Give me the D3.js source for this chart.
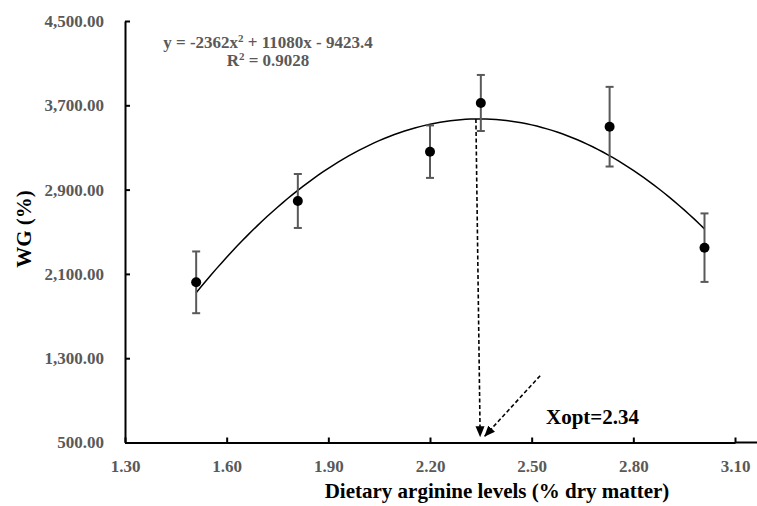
<!DOCTYPE html>
<html>
<head>
<meta charset="utf-8">
<style>
    body { margin: 0; background: #fff; }
    svg { font-family: 'Liberation Serif', 'Times New Roman', serif; font-weight: bold; }
    .axis .tick text { fill: #595959; font-size: 17px; font-family: 'Liberation Serif', 'Times New Roman', serif; font-weight: bold; }
    .axis .tick line { stroke: #000; stroke-width: 2; }
    .axis .domain { stroke: #000; stroke-width: 2; }
</style>
</head>
<body>
<svg width="757" height="506"></svg>
<script src="https://d3js.org/d3.v7.min.js"></script>
<script>
    // dietary arginine levels and weight gain (mean +/- error)
    let levels = [1.51, 1.81, 2.20, 2.35, 2.73, 3.01];
    let wg = [2020, 2792, 3260, 3722, 3497, 2349];
    let wgErr = [293, 256, 249, 266, 378, 325];

    let xTicks = [1.30, 1.60, 1.90, 2.20, 2.50, 2.80, 3.10];
    let yTicks = [500, 1300, 2100, 2900, 3700, 4500];

    // fitted curve y = a x^2 + b x + c
    let coef = [-2362, 11080, -9423.4];
    let xopt = 2.34;

    let width = 757, height = 506;
    let svg = d3.select("svg");

    let x = d3.scaleLinear().domain([1.3, 3.1]).range([125, 735]);
    let y = d3.scaleLinear().domain([500, 4500]).range([442.5, 21]);

    svg.append("defs").append("marker")
        .attr("id", "arrow")
        .attr("markerUnits", "userSpaceOnUse")
        .attr("viewBox", "0 -5 12 10")
        .attr("refX", 11).attr("refY", 0)
        .attr("markerWidth", 12).attr("markerHeight", 10)
        .attr("orient", "auto")
        .append("path")
        .attr("d", "M0,-4.5L11,0L0,4.5Z")
        .attr("fill", "#000");

    // axes
    svg.append("g")
        .attr("class", "y axis")
        .attr("transform", `translate(${x(1.3)},0)`)
        .call(d3.axisLeft(y).tickValues(yTicks).tickSizeInner(-5).tickSizeOuter(0)
            .tickPadding(21).tickFormat(d3.format(",.2f")));

    let xAxis = svg.append("g")
        .attr("class", "x axis")
        .attr("transform", `translate(0,${y(500)})`)
        .call(d3.axisBottom(x).tickValues(xTicks).tickSizeInner(-5).tickSizeOuter(0)
            .tickPadding(17).tickFormat(d3.format(".2f")));

    xAxis.append("line")
        .attr("x1", x(3.1)).attr("x2", width)
        .attr("stroke", "#000").attr("stroke-width", 2);

    // fitted curve
    let fit = v => coef[0] * v * v + coef[1] * v + coef[2];
    let curveX = d3.range(0, 101).map(i => levels[0] + (levels[levels.length - 1] - levels[0]) * i / 100);
    svg.append("path")
        .datum(curveX)
        .attr("fill", "none")
        .attr("stroke", "#000")
        .attr("stroke-width", 1.5)
        .attr("d", d3.line().x(d => x(d)).y(d => y(fit(d))));

    // error bars
    let data = levels.map((l, i) => ({ l: l, m: wg[i], e: wgErr[i] }));
    let err = svg.append("g").attr("stroke", "#595959").attr("stroke-width", 2);
    err.selectAll(".v").data(data).join("line")
        .attr("x1", d => x(d.l)).attr("x2", d => x(d.l))
        .attr("y1", d => y(d.m + d.e)).attr("y2", d => y(d.m - d.e));
    err.selectAll(".t").data(data).join("line")
        .attr("x1", d => x(d.l) - 4).attr("x2", d => x(d.l) + 4)
        .attr("y1", d => y(d.m + d.e)).attr("y2", d => y(d.m + d.e));
    err.selectAll(".b").data(data).join("line")
        .attr("x1", d => x(d.l) - 4).attr("x2", d => x(d.l) + 4)
        .attr("y1", d => y(d.m - d.e)).attr("y2", d => y(d.m - d.e));

    svg.append("g").selectAll("circle").data(data).join("circle")
        .attr("cx", d => x(d.l)).attr("cy", d => y(d.m))
        .attr("r", 5).attr("fill", "#000");

    // optimum arrows
    let vx = -coef[1] / (2 * coef[0]);
    svg.append("line")
        .attr("x1", x(vx - 0.01)).attr("y1", y(fit(vx)))
        .attr("x2", x(2.348)).attr("y2", y(550))
        .attr("stroke", "#000").attr("stroke-width", 1.6)
        .attr("stroke-dasharray", "4,2.5")
        .attr("marker-end", "url(#arrow)");

    svg.append("line")
        .attr("x1", x(2.525)).attr("y1", y(1134))
        .attr("x2", x(2.36)).attr("y2", y(555))
        .attr("stroke", "#000").attr("stroke-width", 1.6)
        .attr("stroke-dasharray", "4,2.5")
        .attr("marker-end", "url(#arrow)");

    svg.append("text")
        .attr("x", 546).attr("y", 424)
        .attr("font-size", "21px")
        .text("Xopt=" + xopt.toFixed(2));

    // equation
    let eq = svg.append("text")
        .attr("x", 268).attr("y", 47.5)
        .attr("text-anchor", "middle")
        .attr("font-size", "17px")
        .attr("fill", "#595959");
    eq.append("tspan").text("y = " + coef[0] + "x");
    eq.append("tspan").attr("dy", -6).attr("font-size", "11px").text("2");
    eq.append("tspan").attr("dy", 6).text(" + " + coef[1] + "x - " + Math.abs(coef[2]));

    let r2 = svg.append("text")
        .attr("x", 268).attr("y", 66)
        .attr("text-anchor", "middle")
        .attr("font-size", "17px")
        .attr("fill", "#595959");
    r2.append("tspan").text("R");
    r2.append("tspan").attr("dy", -6).attr("font-size", "11px").text("2");
    r2.append("tspan").attr("dy", 6).text(" = 0.9028");

    // axis titles
    svg.append("text")
        .attr("x", 497).attr("y", 498)
        .attr("text-anchor", "middle")
        .attr("font-size", "21px")
        .text("Dietary arginine levels (% dry matter)");

    svg.append("text")
        .attr("transform", "translate(31,229) rotate(-90)")
        .attr("text-anchor", "middle")
        .attr("font-size", "21px")
        .text("WG (%)");
</script>
</body>
</html>
